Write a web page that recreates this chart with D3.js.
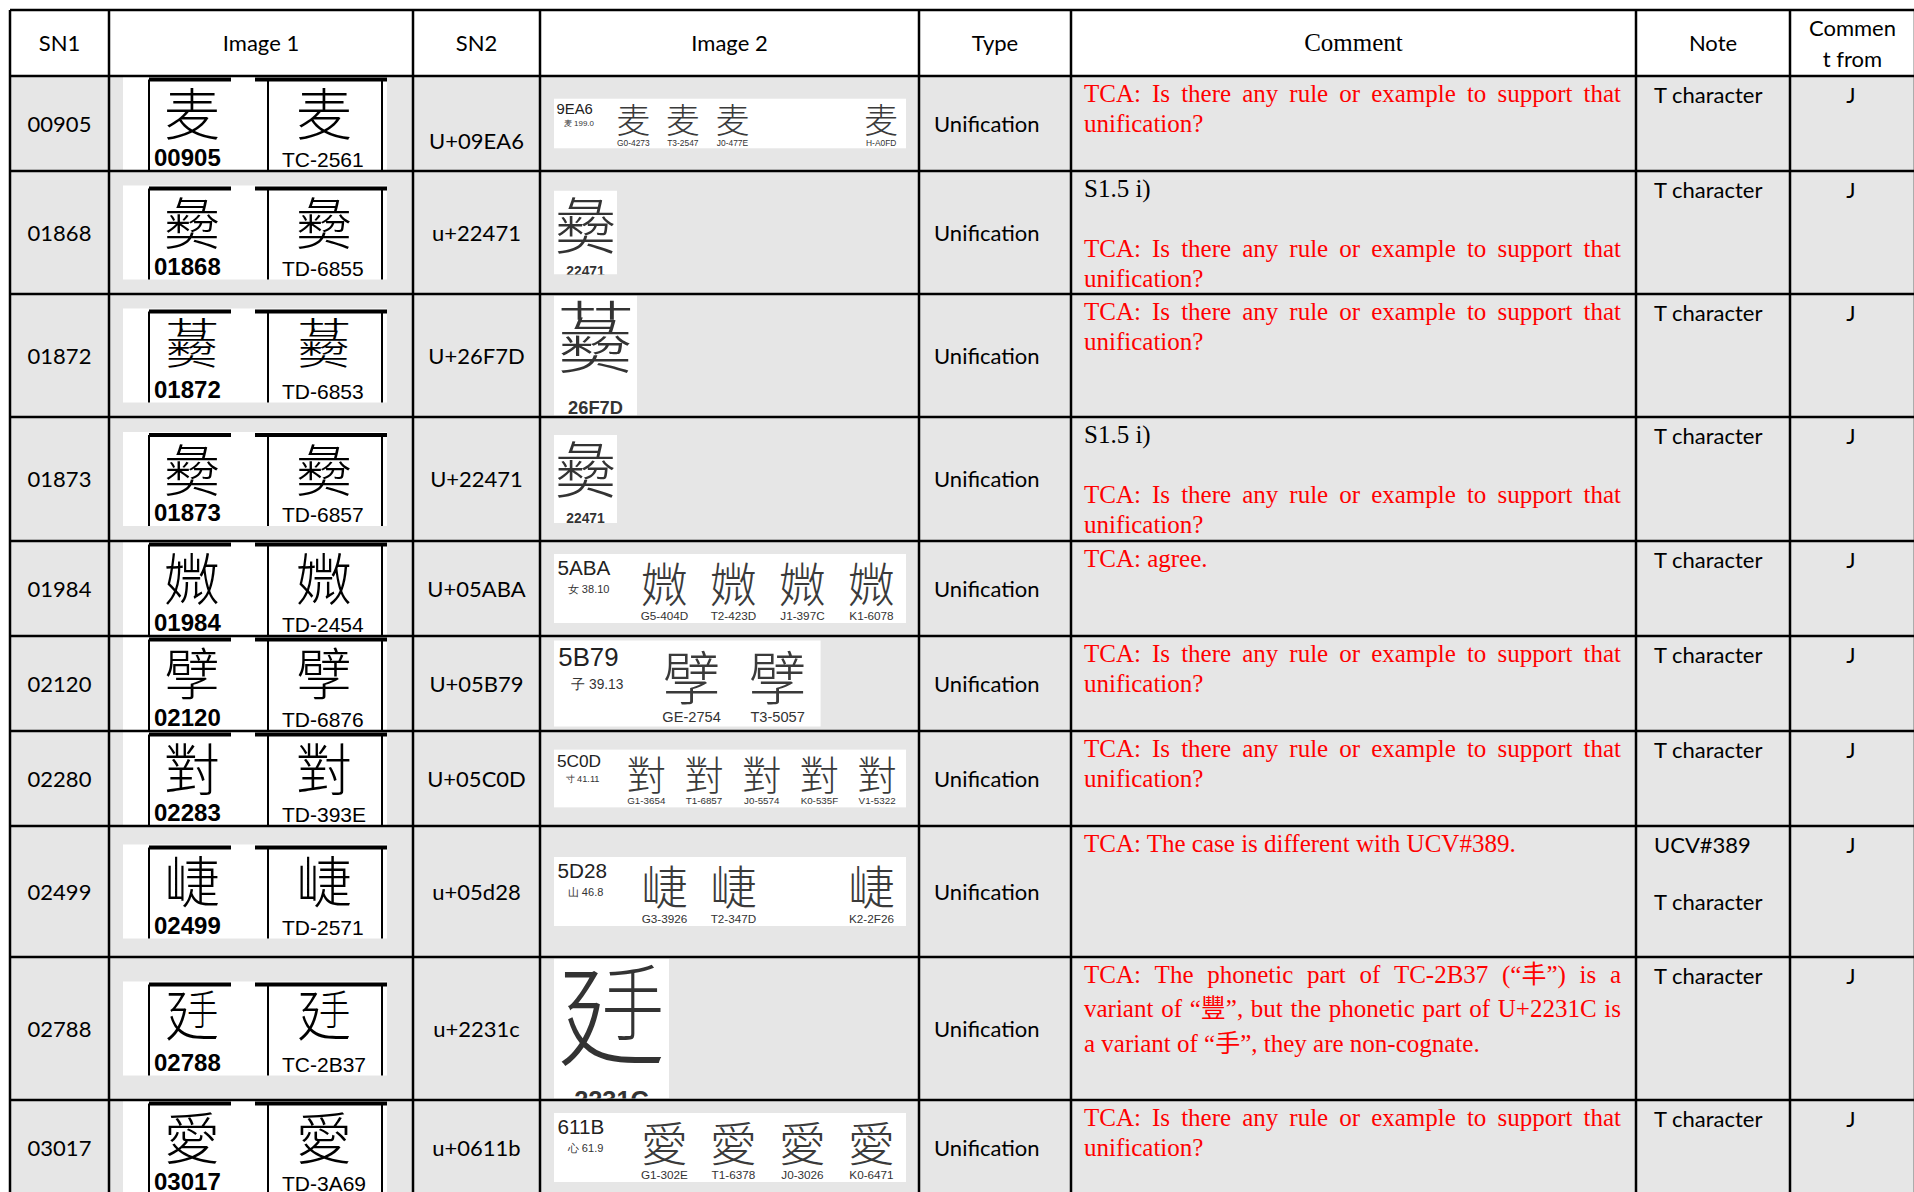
<!DOCTYPE html>
<html><head><meta charset="utf-8">
<script src="https://cdn.jsdelivr.net/npm/d3@7"></script>
<style>
html,body{margin:0;padding:0;background:#fff;}
svg{display:block;}
</style></head><body>
<script>
// ---------------- DATA ----------------
const headers = ["SN1", "Image 1", "SN2", "Image 2", "Type", "Comment", "Note", "Commen|t from"];
const sn1 = ["00905", "01868", "01872", "01873", "01984", "02120", "02280", "02499", "02788", "03017"];
const img1Numbers = ["00905", "01868", "01872", "01873", "01984", "02120", "02283", "02499", "02788", "03017"];
const img1Codes = ["TC-2561", "TD-6855", "TD-6853", "TD-6857", "TD-2454", "TD-6876", "TD-393E", "TD-2571", "TC-2B37", "TD-3A69"];
const sn2 = [["", "U+09EA6"], ["u+22471"], ["U+26F7D"], ["U+22471"], ["U+05ABA"], ["U+05B79"], ["U+05C0D"], ["u+05d28"], ["u+2231c"], ["u+0611b"]];
const img2CodePoints = ["9EA6", "22471", "26F7D", "22471", "5ABA", "5B79", "5C0D", "5D28", "2231C", "611B"];
const img2Radicals = ["麦 199.0", "", "", "", "女 38.10", "子 39.13", "寸 41.11", "山 46.8", "", "心 61.9"];
const img2Sources = [
  ["G0-4273", "T3-2547", "J0-477E", "", "", "H-A0FD"],
  [], [], [],
  ["G5-404D", "T2-423D", "J1-397C", "K1-6078"],
  ["GE-2754", "T3-5057"],
  ["G1-3654", "T1-6857", "J0-5574", "K0-535F", "V1-5322"],
  ["G3-3926", "T2-347D", "", "K2-2F26"],
  [],
  ["G1-302E", "T1-6378", "J0-3026", "K0-6471"]
];
const types = ["Unification", "Unification", "Unification", "Unification", "Unification", "Unification", "Unification", "Unification", "Unification", "Unification"];
const askRule = ["TCA: Is there any rule or example to support that", "unification?"];
const comments = [
  [askRule],
  [["S1.5 i)"], [""], askRule],
  [askRule],
  [["S1.5 i)"], [""], askRule],
  [["TCA: agree."]],
  [askRule],
  [askRule],
  [["TCA: The case is different with UCV#389."]],
  [["TCA: The phonetic part of TC-2B37 (“丰”) is a", "variant of “豐”, but the phonetic part of U+2231C is", "a variant of “手”, they are non-cognate."]],
  [askRule]
];
const notes = [["T character"], ["T character"], ["T character"], ["T character"], ["T character"], ["T character"], ["T character"], ["UCV#389", "", "T character"], ["T character"], ["T character"]];
const commentFrom = ["J", "J", "J", "J", "J", "J", "J", "J", "J", "J"];

// ---------------- LAYOUT ----------------
const W = 1914, H = 1192;
const colEdges = [10, 109, 413, 540, 919, 1071, 1636, 1790, 1915];
const rowHeights = [66, 95, 123, 123, 124, 95, 95, 95, 131, 143, 95];
const rowEdges = [10, ...d3.cumsum(rowHeights).map(v => v + 10)];
// single-glyph picture boxes: [width, height, label cap-top]
const singleGlyphBox = {1: [63, 84, 76], 2: [83, 120, 105], 3: [63, 88, 78], 8: [115, 140, 132]};
// ideographs missing from the installed fonts are drawn from their components,
// each fitted into an ink box given in em units around the glyph centre
const glyphParts = {
  "26F7D": [{ch: "艹", box: [-0.43, -0.45, 0.43, -0.2]}, {ch: "\u{22471}", box: [-0.43, -0.24, 0.43, 0.45]}],
  "2231C": [{ch: "廴", box: [-0.45, -0.4, 0.45, 0.45]}, {ch: "手", box: [-0.06, -0.46, 0.44, 0.22]}]
};

const SANS = "Lato, 'Open Sans', sans-serif";
const SERIF = "'Liberation Serif', 'Times New Roman', 'Noto Sans CJK TC', serif";
const ARIAL = "'Liberation Sans', Arial, sans-serif";
const NARROW = "'Liberation Sans Narrow', 'Liberation Sans', Arial, sans-serif";
const CJK = "'Noto Sans CJK TC', 'Noto Sans CJK SC', 'Noto Sans CJK JP', sans-serif";
const cjkRe = /[\u3400-\u9fff\u{20000}-\u{2ffff}]/u;

const x = d3.scaleOrdinal().domain(d3.range(colEdges.length)).range(colEdges);
const colMid = c => (x(c) + x(c + 1)) / 2;
const rowTop = i => rowEdges[i + 1];
const rowBot = i => rowEdges[i + 2];
const rowMid = i => (rowTop(i) + rowBot(i)) / 2;

const ctx = document.createElement("canvas").getContext("2d");
function inkBox(ch) {
  ctx.font = `300 100px ${CJK}`;
  const m = ctx.measureText(ch);
  return {l: -m.actualBoundingBoxLeft, r: m.actualBoundingBoxRight, t: -m.actualBoundingBoxAscent, b: m.actualBoundingBoxDescent};
}

function drawGlyph(g, hex, cx, cy, fs, fill) {
  const parts = glyphParts[hex];
  if (!parts) {
    g.append("text").attr("x", cx).attr("y", cy)
      .attr("text-anchor", "middle").attr("dominant-baseline", "central")
      .attr("font-family", CJK).attr("font-weight", 300).attr("font-size", fs).attr("fill", fill)
      .text(String.fromCodePoint(parseInt(hex, 16)));
    return;
  }
  parts.forEach(p => {
    const ink = inkBox(p.ch);
    const X0 = cx + p.box[0] * fs, X1 = cx + p.box[2] * fs;
    const Y0 = cy + p.box[1] * fs, Y1 = cy + p.box[3] * fs;
    const kx = (X1 - X0) / (ink.r - ink.l), ky = (Y1 - Y0) / (ink.b - ink.t);
    g.append("text")
      .attr("transform", `translate(${X0 - ink.l * kx},${Y0 - ink.t * ky}) scale(${kx},${ky})`)
      .attr("font-family", CJK).attr("font-weight", 300).attr("font-size", 100).attr("fill", fill)
      .text(p.ch);
  });
}

const svg = d3.select("body").append("svg").attr("width", W).attr("height", H);
svg.append("rect").attr("width", W).attr("height", H).attr("fill", "#fff");
svg.append("rect").attr("x", colEdges[0]).attr("y", rowEdges[1])
  .attr("width", colEdges[8] - colEdges[0]).attr("height", rowEdges[rowEdges.length - 1] - rowEdges[1])
  .attr("fill", "#e6e6e6");

// header
const hdr = svg.append("g");
headers.forEach((h, c) => {
  const lines = h.split("|");
  const lh = 31;
  const y0 = (rowEdges[0] + rowEdges[1]) / 2 + 8 - (lines.length - 1) * lh / 2;
  lines.forEach((ln, k) => {
    hdr.append("text").attr("x", colMid(c)).attr("y", y0 + k * lh)
      .attr("text-anchor", "middle")
      .attr("font-family", c === 5 ? SERIF : SANS).attr("font-size", c === 5 ? 25 : 22)
      .attr("fill", "#000").text(ln);
  });
});

const defs = svg.append("defs");
const rows = svg.selectAll("g.row").data(d3.range(sn1.length)).join("g").attr("class", "row");

rows.each(function(i) {
  const g = d3.select(this);
  const cy = rowMid(i);
  // SN1
  g.append("text").attr("x", colMid(0)).attr("y", cy + 8).attr("text-anchor", "middle")
    .attr("font-family", SANS).attr("font-size", 22).text(sn1[i]);
  // SN2
  const s2 = sn2[i];
  s2.forEach((ln, k) => {
    g.append("text").attr("x", colMid(2)).attr("y", cy + 8 + (k - (s2.length - 1) / 2) * 34)
      .attr("text-anchor", "middle").attr("font-family", SANS).attr("font-size", 22).text(ln);
  });
  // Type
  g.append("text").attr("x", x(4) + 15).attr("y", cy + 8)
    .attr("font-family", SANS).attr("font-size", 22).text(types[i]);
  // Note
  notes[i].forEach((ln, k) => {
    g.append("text").attr("x", x(6) + 18).attr("y", rowTop(i) + 27 + k * 28.5)
      .attr("font-family", SANS).attr("font-size", 22).text(ln);
  });
  // Comment from
  g.append("text").attr("x", 1851).attr("y", rowTop(i) + 27).attr("text-anchor", "middle")
    .attr("font-family", SANS).attr("font-size", 22).text(commentFrom[i]);

  // Comment (justified)
  const cx0 = x(5) + 13, cw = x(6) - 15 - cx0;
  let by = rowTop(i) + 25.5;
  let first = true;
  comments[i].forEach(par => {
    const fill = par[0].startsWith("TCA") ? "#ff0000" : "#000";
    par.forEach((ln, k) => {
      const lh = cjkRe.test(ln) ? 34.5 : 30;
      if (!first) by += lh;
      first = false;
      const justify = k < par.length - 1;
      const t = g.append("text").attr("y", by).attr("fill", fill)
        .attr("font-family", SERIF).attr("font-size", 25);
      if (!justify) { t.attr("x", cx0).text(ln); return; }
      const words = ln.split(" ");
      const spans = words.map(w => t.append("tspan").text(w));
      const ws = spans.map(s => s.node().getComputedTextLength());
      const gap = (cw - d3.sum(ws)) / (words.length - 1);
      let xx = cx0;
      spans.forEach((s, j) => { s.attr("x", xx); xx += ws[j] + gap; });
    });
  });

  // Image 1
  const bt = cy - 47;
  const im1 = g.append("g");
  im1.append("rect").attr("x", 123).attr("y", bt).attr("width", 264).attr("height", 94).attr("fill", "#fff");
  [149, 268, 382].forEach(lx => im1.append("line").attr("x1", lx).attr("x2", lx)
    .attr("y1", bt + 3).attr("y2", bt + 94).attr("stroke", "#000").attr("stroke-width", 2));
  [[149, 231], [255, 387]].forEach(([a, b]) => im1.append("line").attr("x1", a).attr("x2", b)
    .attr("y1", bt + 3).attr("y2", bt + 3).attr("stroke", "#000").attr("stroke-width", 4));
  [192, 324].forEach(gx => drawGlyph(im1, img2CodePoints[i], gx, bt + 34, 56, "#000"));
  im1.append("text").attr("x", 154).attr("y", bt + 89).attr("font-family", ARIAL)
    .attr("font-weight", "bold").attr("font-size", 24).text(img1Numbers[i]);
  im1.append("text").attr("x", 282).attr("y", bt + 90).attr("font-family", ARIAL)
    .attr("font-size", 21).text(img1Codes[i]);

  // Image 2
  const left = 554;
  const im2 = g.append("g");
  const src = img2Sources[i];
  if (src.length) {
    const n = src.length;
    const u = Math.min(352 / (n + 1.1), 86);
    const top = cy - u / 2;
    im2.append("rect").attr("x", left).attr("y", top).attr("width", u * (n + 1.1)).attr("height", u).attr("fill", "#fff");
    im2.append("text").attr("x", left + 0.05 * u).attr("y", top + 0.3 * u)
      .attr("font-family", NARROW).attr("font-size", 0.3 * u).attr("fill", "#222").text(img2CodePoints[i]);
    im2.append("text").attr("x", left + 0.2 * u).attr("y", top + 0.56 * u)
      .attr("font-family", NARROW).attr("font-size", 0.16 * u).attr("fill", "#333").text(img2Radicals[i]);
    const sx = d3.scaleLinear().domain([0, 1]).range([left + 1.6 * u, left + 2.6 * u]);
    src.forEach((s, k) => {
      if (!s) return;
      drawGlyph(im2, img2CodePoints[i], sx(k), top + 0.4 * u, 0.68 * u, "#3a3a3a");
      im2.append("text").attr("x", sx(k)).attr("y", top + 0.95 * u).attr("text-anchor", "middle")
        .attr("font-family", NARROW).attr("font-size", 0.17 * u).attr("fill", "#333").text(s);
    });
  } else {
    const [w, h, capTop] = singleGlyphBox[i];
    const top = cy - h / 2;
    const id = "clip" + i;
    defs.append("clipPath").attr("id", id).append("rect")
      .attr("x", left).attr("y", top).attr("width", w).attr("height", h);
    const cg = im2.append("g").attr("clip-path", `url(#${id})`);
    cg.append("rect").attr("x", left).attr("y", top).attr("width", w).attr("height", h).attr("fill", "#fff");
    drawGlyph(cg, img2CodePoints[i], left + w / 2, top + 0.5 * w, 0.97 * w, "#333");
    const fs = 0.22 * w;
    cg.append("text").attr("x", left + w / 2).attr("y", top + capTop + 0.72 * fs).attr("text-anchor", "middle")
      .attr("font-family", ARIAL).attr("font-weight", "bold").attr("font-size", fs).attr("fill", "#333")
      .text(img2CodePoints[i]);
  }
});

// grid lines
const grid = svg.append("g").attr("stroke", "#000").attr("stroke-width", 2.5);
grid.selectAll("line.h").data(rowEdges).join("line").attr("class", "h")
  .attr("x1", colEdges[0]).attr("x2", colEdges[8]).attr("y1", d => d).attr("y2", d => d);
grid.selectAll("line.v").data(colEdges).join("line").attr("class", "v")
  .attr("x1", d => d).attr("x2", d => d).attr("y1", rowEdges[0]).attr("y2", rowEdges[rowEdges.length - 1]);
</script>
</body></html>
